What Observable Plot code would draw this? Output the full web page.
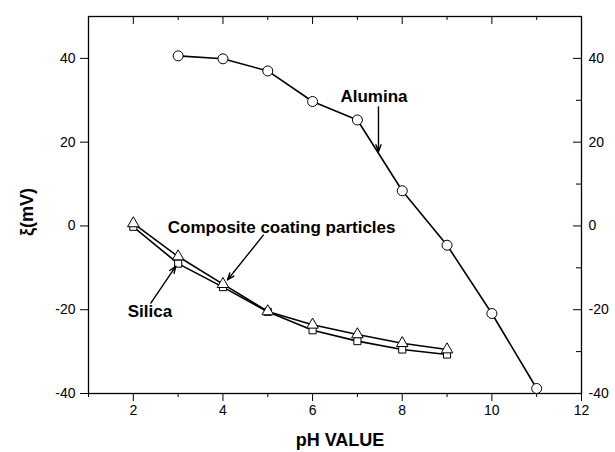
<!DOCTYPE html>
<html><head><meta charset="utf-8">
<script src="https://cdn.jsdelivr.net/npm/d3@7"></script>
<script src="https://cdn.jsdelivr.net/npm/@observablehq/plot@0.6"></script>
<style>body{margin:0;background:#fff;font-family:"Liberation Sans",Arial,sans-serif}</style>
</head><body><div id="chart"></div>
<script>
const phAlumina = [3, 4, 5, 6, 7, 8, 9, 10, 11];
const zetaAlumina = [40.6, 39.9, 37.0, 29.7, 25.3, 8.4, -4.6, -20.9, -38.8];
const phSilica = [2, 3, 4, 5, 6, 7, 8, 9];
const zetaSilica = [-0.2, -9.0, -14.6, -20.5, -24.9, -27.5, -29.5, -30.7];
const phComposite = [2, 3, 4, 5, 6, 7, 8, 9];
const zetaComposite = [0.6, -7.3, -13.9, -20.4, -23.6, -25.9, -28.0, -29.5];

const xMajor = [2, 4, 6, 8, 10, 12];
const xMinor = [1, 3, 5, 7, 9, 11];
const yMajor = [-40, -20, 0, 20, 40];
const yMinor = [-30, -10, 10, 30];

const labelText = ["Alumina", "Composite coating particles", "Silica"];
const labelX = [7.37, 5.31, 2.37];
const labelY = [30.8, -0.5, -20.5];
const arrowX1 = [7.47, 4.90, 2.39];
const arrowY1 = [28.4, -2.2, -18.4];
const arrowX2 = [7.47, 4.10, 2.95];
const arrowY2 = [17.7, -12.9, -9.6];
const yTitle = "ξ(mV)";
const yTitleAt = 3.3;
const xTitle = "pH VALUE";

const alumina = phAlumina.map((x, i) => ({x, y: zetaAlumina[i]}));
const silica = phSilica.map((x, i) => ({x, y: zetaSilica[i]}));
const composite = phComposite.map((x, i) => ({x, y: zetaComposite[i]}));
const labels = labelText.map((t, i) => ({t, x: labelX[i], y: labelY[i]}));
const arrows = labelText.map((t, i) => ({x1: arrowX1[i], y1: arrowY1[i], x2: arrowX2[i], y2: arrowY2[i]}));

const W = 615, H = 452, mL = 88, mR = 34, mT = 16, mB = 59;
const pw = W - mL - mR, ph = H - mT - mB;
const font = "Liberation Sans, Arial, sans-serif";

const chart = Plot.plot({
  width: W, height: H,
  marginLeft: mL, marginRight: mR, marginTop: mT, marginBottom: mB,
  style: {fontFamily: font, background: "#fff", color: "#000"},
  x: {domain: [1, 12]},
  y: {domain: [-40, 50]},
  marks: [
    Plot.frame({stroke: "#000", strokeWidth: 1.3}),
    Plot.axisX({ticks: xMajor, tickSize: 8, tickPadding: 4, fontSize: 14, label: null, tickFormat: d => d}),
    Plot.axisX({ticks: xMinor, tickSize: 4, text: null, label: null}),
    Plot.axisY({ticks: yMajor, tickSize: 8, tickPadding: 5, fontSize: 14, label: null, tickFormat: d => d}),
    Plot.axisY({anchor: "right", ticks: yMajor, tickSize: 0, tickPadding: 7, fontSize: 14, label: null, tickFormat: d => d}),
    Plot.tickX(xMajor, {x: d => d, insetBottom: ph - 8, stroke: "#000"}),
    Plot.tickX(xMinor, {x: d => d, insetBottom: ph - 4, stroke: "#000"}),
    Plot.tickY(yMajor, {y: d => d, insetLeft: pw - 8, stroke: "#000"}),
    Plot.tickY(yMinor, {y: d => d, insetLeft: pw - 5, stroke: "#000"}),
    Plot.line(silica, {x: "x", y: "y", stroke: "#000", strokeWidth: 1.6}),
    Plot.line(composite, {x: "x", y: "y", stroke: "#000", strokeWidth: 1.6}),
    Plot.line(alumina, {x: "x", y: "y", stroke: "#000", strokeWidth: 1.6}),
    Plot.dot(silica, {x: "x", y: "y", symbol: "square", r: 4, fill: "#fff", stroke: "#000", strokeWidth: 1}),
    Plot.dot(composite, {x: "x", y: "y", symbol: "triangle", r: 4.3, fill: "#fff", stroke: "#000", strokeWidth: 1}),
    Plot.dot(alumina, {x: "x", y: "y", symbol: "circle", r: 5, fill: "#fff", stroke: "#000", strokeWidth: 1}),
    Plot.arrow(arrows, {x1: "x1", y1: "y1", x2: "x2", y2: "y2", stroke: "#000", strokeWidth: 1.4, headLength: 8, headAngle: 40}),
    Plot.text(labels, {x: "x", y: "y", text: "t", fontSize: 17, fontWeight: "bold", textAnchor: "middle", lineAnchor: "middle", fill: "#000"}),
    Plot.text([yTitle], {y: () => yTitleAt, frameAnchor: "left", dx: -61, rotate: -90, text: d => d, fontSize: 18, fontWeight: "bold", textAnchor: "middle", lineAnchor: "middle", fill: "#000"}),
    Plot.text([xTitle], {frameAnchor: "bottom", dx: 5, dy: 47, text: d => d, fontSize: 18, fontWeight: "bold", lineAnchor: "middle", fill: "#000"})
  ]
});
document.getElementById("chart").appendChild(chart);
</script>
</body></html>
